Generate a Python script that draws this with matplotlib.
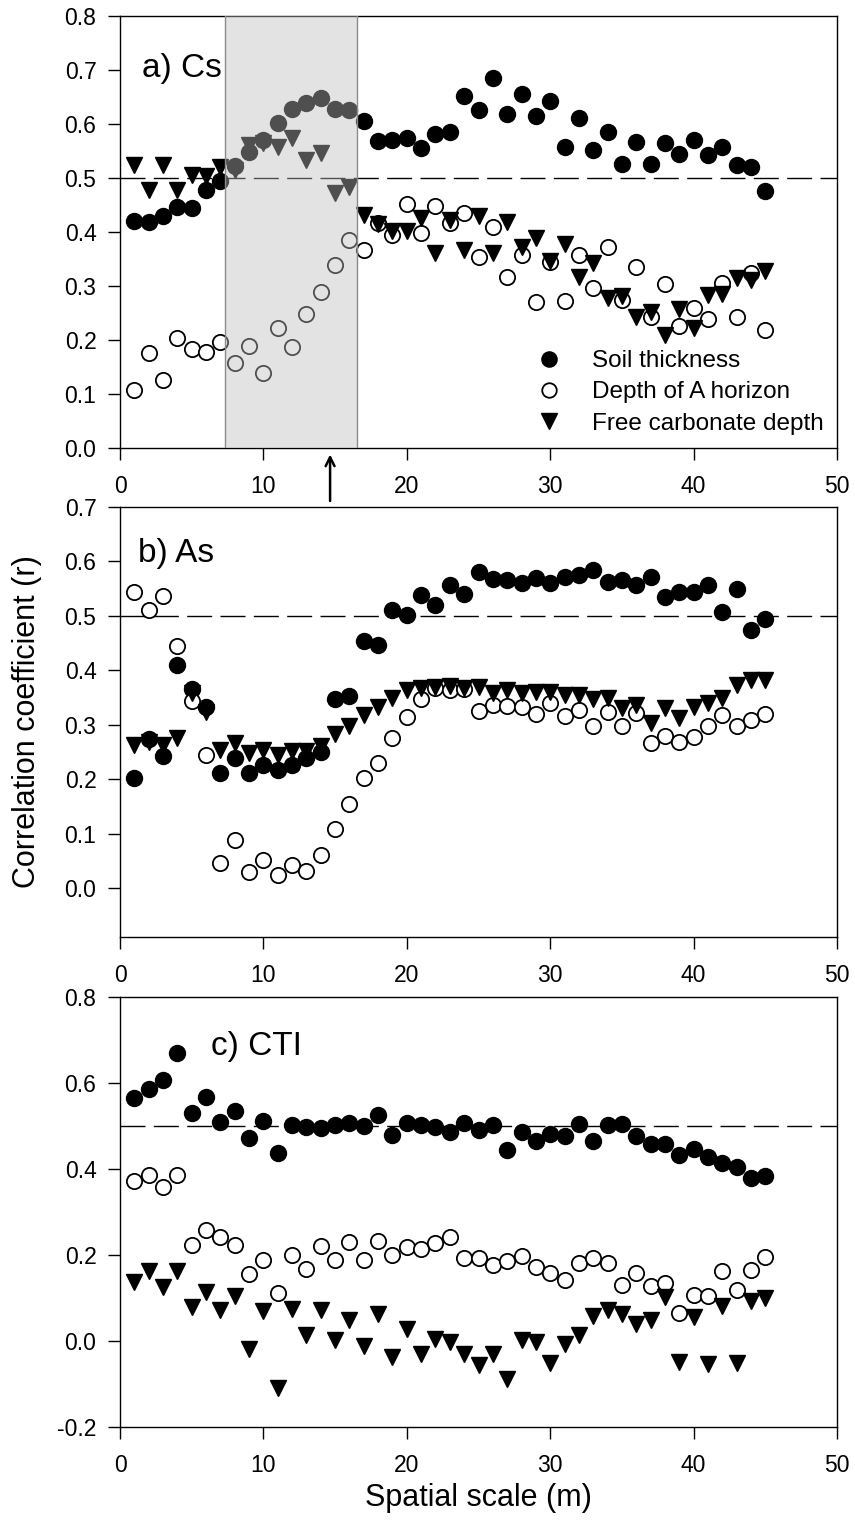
import matplotlib

matplotlib.use("Agg")
import matplotlib.pyplot as plt
from matplotlib.patches import Rectangle

plt.rcParams["font.family"] = ["Liberation Sans", "DejaVu Sans"]

# spatial scale (m)
scale = [1, 2, 3, 4, 5, 6, 7, 8, 9, 10, 11, 12, 13, 14, 15, 16, 17, 18, 19, 20,
         21, 22, 23, 24, 25, 26, 27, 28, 29, 30, 31, 32, 33, 34, 35, 36, 37, 38,
         39, 40, 41, 42, 43, 44, 45]

# a) Cs
cs_soil = [0.421, 0.419, 0.429, 0.447, 0.445, 0.478, 0.495, 0.523, 0.549, 0.571,
           0.602, 0.627, 0.639, 0.648, 0.627, 0.626, 0.605, 0.568, 0.571, 0.575,
           0.555, 0.581, 0.586, 0.652, 0.626, 0.685, 0.618, 0.655, 0.615, 0.642,
           0.557, 0.611, 0.551, 0.586, 0.526, 0.566, 0.526, 0.565, 0.545, 0.570,
           0.543, 0.557, 0.525, 0.521, 0.476]
cs_ahor = [0.107, 0.176, 0.126, 0.204, 0.183, 0.178, 0.197, 0.158, 0.189, 0.138,
           0.222, 0.187, 0.249, 0.288, 0.339, 0.385, 0.366, 0.416, 0.395, 0.452,
           0.399, 0.448, 0.417, 0.435, 0.354, 0.410, 0.317, 0.357, 0.271, 0.345,
           0.272, 0.357, 0.296, 0.373, 0.274, 0.336, 0.242, 0.303, 0.226, 0.260,
           0.238, 0.306, 0.243, 0.325, 0.218]
cs_carb = [0.524, 0.478, 0.524, 0.478, 0.506, 0.503, 0.521, 0.515, 0.561, 0.564,
           0.558, 0.574, 0.534, 0.546, 0.472, 0.484, 0.432, 0.415, 0.401, 0.401,
           0.426, 0.361, 0.423, 0.367, 0.429, 0.361, 0.418, 0.373, 0.389, 0.347,
           0.377, 0.317, 0.342, 0.278, 0.281, 0.243, 0.252, 0.209, 0.257, 0.222,
           0.283, 0.285, 0.314, 0.311, 0.327]

# b) As
as_soil = [0.202, 0.273, 0.242, 0.410, 0.365, 0.333, 0.211, 0.239, 0.211, 0.226,
           0.217, 0.226, 0.239, 0.249, 0.347, 0.353, 0.453, 0.446, 0.511, 0.502,
           0.538, 0.520, 0.557, 0.541, 0.581, 0.568, 0.566, 0.561, 0.569, 0.561,
           0.572, 0.575, 0.584, 0.563, 0.566, 0.557, 0.571, 0.535, 0.544, 0.544,
           0.557, 0.508, 0.549, 0.474, 0.494]
as_ahor = [0.544, 0.511, 0.537, 0.445, 0.343, 0.245, 0.046, 0.089, 0.029, 0.052,
           0.024, 0.043, 0.031, 0.061, 0.108, 0.154, 0.202, 0.229, 0.275, 0.315,
           0.347, 0.368, 0.364, 0.365, 0.326, 0.336, 0.335, 0.332, 0.320, 0.339,
           0.316, 0.327, 0.297, 0.324, 0.298, 0.321, 0.266, 0.280, 0.269, 0.278,
           0.297, 0.318, 0.297, 0.309, 0.320]
as_carb = [0.263, 0.268, 0.263, 0.275, 0.358, 0.324, 0.254, 0.266, 0.248, 0.254,
           0.245, 0.251, 0.252, 0.260, 0.283, 0.297, 0.318, 0.333, 0.350, 0.364,
           0.367, 0.370, 0.371, 0.367, 0.370, 0.358, 0.364, 0.358, 0.361, 0.360,
           0.355, 0.355, 0.347, 0.350, 0.330, 0.336, 0.303, 0.330, 0.312, 0.333,
           0.339, 0.349, 0.373, 0.382, 0.382]

# c) CTI
cti_soil = [0.565, 0.585, 0.608, 0.669, 0.531, 0.567, 0.509, 0.536, 0.473, 0.512,
            0.438, 0.502, 0.498, 0.495, 0.502, 0.506, 0.500, 0.525, 0.478, 0.508,
            0.502, 0.498, 0.486, 0.506, 0.491, 0.502, 0.445, 0.485, 0.464, 0.482,
            0.477, 0.504, 0.465, 0.502, 0.504, 0.477, 0.458, 0.458, 0.432, 0.446,
            0.429, 0.414, 0.404, 0.378, 0.383]
cti_ahor = [0.371, 0.386, 0.358, 0.386, 0.223, 0.258, 0.242, 0.223, 0.155, 0.188,
            0.112, 0.200, 0.167, 0.221, 0.188, 0.231, 0.188, 0.232, 0.200, 0.219,
            0.215, 0.227, 0.242, 0.194, 0.192, 0.177, 0.185, 0.198, 0.173, 0.159,
            0.142, 0.181, 0.192, 0.181, 0.131, 0.158, 0.127, 0.135, 0.065, 0.108,
            0.104, 0.162, 0.119, 0.165, 0.196]
cti_carb = [0.138, 0.162, 0.125, 0.163, 0.078, 0.115, 0.073, 0.105, -0.019, 0.069,
            -0.109, 0.075, 0.015, 0.071, 0.002, 0.050, -0.012, 0.062, -0.038, 0.029,
            -0.031, 0.005, -0.002, -0.031, -0.056, -0.031, -0.088, 0.002, -0.002, -0.050,
            -0.006, 0.013, 0.058, 0.071, 0.062, 0.040, 0.050, 0.102, -0.048, 0.055,
            -0.054, 0.081, -0.052, 0.092, 0.100]

series_labels = ["Soil thickness", "Depth of A horizon", "Free carbonate depth"]
panel_titles = ["a) Cs", "b) As", "c) CTI"]
shade_span = (7.3, 16.5)
arrow_x = 14.65

fig = plt.figure(figsize=(8.55, 15.21), dpi=100)
W, H = 855.0, 1521.0


def make_axes(top_px, bottom_px):
    return fig.add_axes([120 / W, 1 - bottom_px / H, 717 / W, (bottom_px - top_px) / H])


ax_a = make_axes(16, 448)
ax_b = make_axes(507, 937)
ax_c = make_axes(997, 1427)

panels = [
    (ax_a, cs_soil, cs_ahor, cs_carb, (0.0, 0.8), [0.0, 0.1, 0.2, 0.3, 0.4, 0.5, 0.6, 0.7, 0.8], (0.030, 0.879)),
    (ax_b, as_soil, as_ahor, as_carb, (-0.09, 0.7), [0.0, 0.1, 0.2, 0.3, 0.4, 0.5, 0.6, 0.7], (0.025, 0.893)),
    (ax_c, cti_soil, cti_ahor, cti_carb, (-0.2, 0.8), [-0.2, 0.0, 0.2, 0.4, 0.6, 0.8], (0.127, 0.884)),
]

for idx, (ax, soil, ahor, carb, ylim, yticks, title_pos) in enumerate(panels):
    ax.axhline(0.5, color="black", lw=1.0, dashes=(18, 6), zorder=1)
    ax.plot(scale, soil, "o", ms=11.5, mfc="black", mec="black", mew=1.0,
            ls="none", zorder=3, label=series_labels[0])
    ax.plot(scale, ahor, "o", ms=11.0, mfc="white", mec="black", mew=1.3,
            ls="none", zorder=3, label=series_labels[1])
    ax.plot(scale, carb, "v", ms=12, mfc="black", mec="black", mew=1.0,
            ls="none", zorder=3, label=series_labels[2])
    ax.set_xlim(0, 50)
    ax.set_ylim(*ylim)
    ax.set_xticks([0, 10, 20, 30, 40, 50])
    ax.set_yticks(yticks)
    ax.yaxis.set_major_formatter(matplotlib.ticker.FormatStrFormatter("%.1f"))
    ax.tick_params(direction="out", length=8.5, width=1.0, labelsize=16.5,
                   top=False, right=False)
    ax.tick_params(axis="y", pad=8.5)
    ax.tick_params(axis="x", pad=11)
    for spine in ax.spines.values():
        spine.set_linewidth(1.0)
    ax.text(title_pos[0], title_pos[1], panel_titles[idx], transform=ax.transAxes,
            fontsize=24, ha="left", va="center")

# shaded window over panel a, drawn on top of the markers
ax_a.add_patch(Rectangle((shade_span[0], 0.0), shade_span[1] - shade_span[0], 0.8,
                         facecolor="#bebebe", alpha=0.42, edgecolor="none", zorder=5))
for xv in shade_span:
    ax_a.axvline(xv, color="#8c8c8c", lw=1.0, zorder=6)

ax_a.legend(loc="lower right", frameon=False, fontsize=17.5, handletextpad=0.75,
            handlelength=2.0, labelspacing=0.38, borderaxespad=0.15,
            markerscale=0.95)

ax_a.annotate("", xy=(arrow_x, -0.012), xytext=(arrow_x, -0.098),
              xycoords="data", textcoords="data", annotation_clip=False,
              arrowprops=dict(arrowstyle="->", color="black", lw=1.8,
                              mutation_scale=16, shrinkA=0, shrinkB=0))

ax_b.set_ylabel("Correlation coefficient (r)", fontsize=22, labelpad=16)
ax_c.set_xlabel("Spatial scale (m)", fontsize=22, labelpad=4)

fig.savefig("out.png", dpi=100)
